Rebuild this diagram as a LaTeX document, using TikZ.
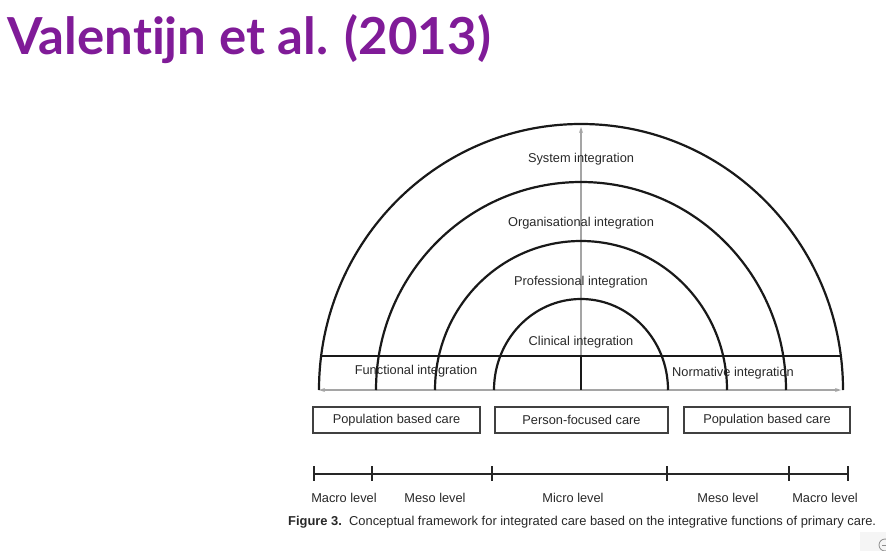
\documentclass[tikz,border=0pt]{standalone}
\usepackage{fontspec}
\setmainfont{Liberation Sans}
\newfontfamily\titlefont[Ligatures=NoCommon]{Lato}
\usetikzlibrary{arrows.meta}
\definecolor{titlepurple}{RGB}{128,27,152}
\definecolor{txtgray}{RGB}{40,40,40}
\definecolor{axisgray}{RGB}{165,165,165}
\tikzset{
  arcline/.style={line width=2.2pt, black!90},
  axisline/.style={line width=1.1pt, axisgray},
  lbl/.style={font=\fontsize{12.8}{14}\selectfont, text=txtgray, inner sep=0pt},
  carebox/.style={draw=black!75, line width=1.3pt, minimum height=26pt, inner sep=0pt, font=\fontsize{12.8}{14}\selectfont, text=txtgray},
  tickline/.style={line width=1.8pt, black!85},
}
\begin{document}
\begin{tikzpicture}[x=1pt,y=-1pt]
\useasboundingbox (0,0) rectangle (886,551);
% title
\node[anchor=base west, inner sep=0pt, text=titlepurple, font=\titlefont\bfseries\fontsize{51}{58}\selectfont] (title) at (7,55) {Valent\kern0pt ijn et al. (2013)};
% centre and axes
\coordinate (c) at (581,390);
\coordinate (top) at (581,127);
\coordinate (hl) at (319,390);
\coordinate (hr) at (841,390);
\draw[axisline, -{Stealth[length=6pt,width=4pt]}] (c) -- (top);
\draw[axisline, {Stealth[length=6pt,width=4pt]}-{Stealth[length=6pt,width=4pt]}] (hl) -- (hr);
% arcs
\draw[arcline] (319,390) arc[start angle=180, end angle=0, x radius=262pt, y radius=266pt];
\draw[arcline] (376,390) arc[start angle=180, end angle=0, x radius=205pt, y radius=208pt];
\draw[arcline] (435,390) arc[start angle=180, end angle=0, x radius=146pt, y radius=149pt];
\draw[arcline] (494,390) arc[start angle=180, end angle=0, x radius=87pt, y radius=91pt];
% horizontal line and centre divider
\coordinate (hl2) at (321,356);
\coordinate (hr2) at (841,356);
\coordinate (cm) at (581,356);
\draw[line width=1.6pt, black!90] (hl2) -- (hr2);
\draw[line width=1.8pt, black!90] (cm) -- (c);
% labels
\node[lbl] (sys) at (581,159) {System integration};
\node[lbl] (org) at (581,223) {Organisational integration};
\node[lbl] (pro) at (581,282) {Professional integration};
\node[lbl] (cli) at (581,342) {Clinical integration};
\node[lbl] (fun) at (416,371) {Functional integration};
\node[lbl] (nor) at (733,373) {Normative integration};
% boxes
\node[carebox, minimum width=167pt] (b1) at (396.5,420) {Population based care};
\node[carebox, minimum width=173pt] (b2) at (581.5,420) {Person-focused care};
\node[carebox, minimum width=166pt] (b3) at (767,420) {Population based care};
% ruler
\coordinate (r0) at (314,474);
\coordinate (r5) at (848,474);
\draw[line width=1.8pt, black!85] (r0) -- (r5);
\foreach \xx in {314,372,492,667,789,848}
  \draw[tickline] (\xx,466) -- (\xx,481);
\node[lbl] (m1) at (344,498) {Macro level};
\node[lbl] (m2) at (435,498) {Meso level};
\node[lbl] (m3) at (573,498) {Micro level};
\node[lbl] (m4) at (728,498) {Meso level};
\node[lbl] (m5) at (825,498) {Macro level};
% caption
\node[anchor=base west, inner sep=0pt, text=txtgray, font=\fontsize{12.9}{15}\selectfont] (cap) at (288,525) {\textbf{Figure 3.}\ \ Conceptual framework for integrated care based on the integrative functions of primary care.};
% corner icon
\fill[black!4] (860,532) rectangle (886,551);
\draw[black!45, line width=0.8pt] (885,545) circle[radius=6pt];
\draw[black!45, line width=0.8pt] (882,545) -- (886,545);
\end{tikzpicture}
\end{document}
